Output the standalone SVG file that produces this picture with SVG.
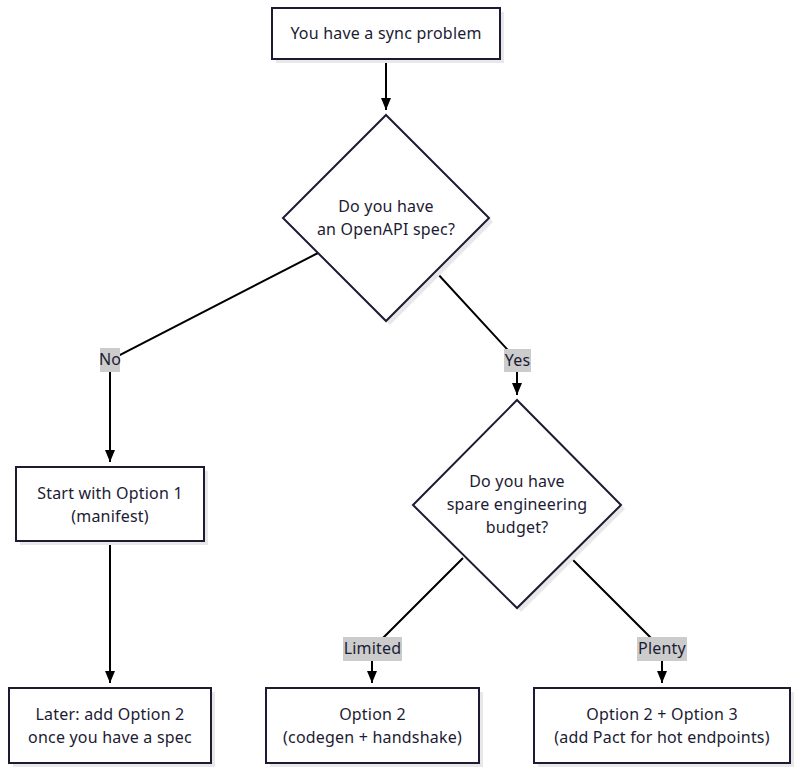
<svg xmlns="http://www.w3.org/2000/svg" width="800" height="772" viewBox="0 0 800 772">
<style>
.node{fill:#fff;stroke:#1c1b33;stroke-width:2}
.shadow{fill:#e8e8e8;stroke:none}
.edge{fill:none;stroke:#000;stroke-width:2}
.t{font-family:"Noto Sans","Liberation Sans",sans-serif;font-size:16px;letter-spacing:0.2px;fill:#1c1b33;text-anchor:middle}
.lbg{fill:#cccccc}
</style>
<defs>
<marker id="arr" viewBox="0 0 12 10" refX="12" refY="5" markerWidth="12" markerHeight="10" markerUnits="userSpaceOnUse" orient="auto">
<path d="M0,0 L12,5 L0,10 z" fill="#000"/>
</marker>
</defs>
<g id="edges">
<path class="edge" d="M386,59 L386,110" marker-end="url(#arr)"/>
<path class="edge" d="M318,253 L110,360 L110,462" marker-end="url(#arr)"/>
<path class="edge" d="M436,272 L517,360 L517,395" marker-end="url(#arr)"/>
<path class="edge" d="M110,541 L110,683" marker-end="url(#arr)"/>
<path class="edge" d="M463,558 L372,649 L372,683" marker-end="url(#arr)"/>
<path class="edge" d="M570,557 L662,649 L662,683" marker-end="url(#arr)"/>
</g>
<g id="labels">
<rect class="lbg" x="100" y="348" width="20" height="24"/>
<text class="t" x="110" y="365">No</text>
<rect class="lbg" x="504" y="349" width="27" height="23"/>
<text class="t" x="517.5" y="366">Yes</text>
<rect class="lbg" x="343" y="637" width="59" height="24"/>
<text class="t" x="372.5" y="654">Limited</text>
<rect class="lbg" x="637" y="637" width="50" height="24"/>
<text class="t" x="662" y="654">Plenty</text>
</g>
<g id="start">
<rect class="shadow" x="276" y="12" width="228" height="51"/>
<rect class="node" x="272" y="8" width="228" height="51"/>
<text class="t" x="386" y="39">You have a sync problem</text>
</g>
<g id="q1">
<polygon class="shadow" points="390,119 493,222 390,325 287,222"/>
<polygon class="node" points="386,115 489,218 386,321 283,218"/>
<text class="t" x="386" y="212">Do you have</text>
<text class="t" x="386" y="235">an OpenAPI spec?</text>
</g>
<g id="opt1">
<rect class="shadow" x="20" y="471" width="188" height="74"/>
<rect class="node" x="16" y="467" width="188" height="74"/>
<text class="t" x="110" y="499">Start with Option 1</text>
<text class="t" x="110" y="522">(manifest)</text>
</g>
<g id="q2">
<polygon class="shadow" points="521,404 625,509 521,612 417,509"/>
<polygon class="node" points="517,400 621,505 517,608 413,505"/>
<text class="t" x="517" y="487">Do you have</text>
<text class="t" x="517" y="510">spare engineering</text>
<text class="t" x="517" y="533">budget?</text>
</g>
<g id="later">
<rect class="shadow" x="13" y="692" width="202" height="75"/>
<rect class="node" x="9" y="688" width="202" height="75"/>
<text class="t" x="110" y="720">Later: add Option 2</text>
<text class="t" x="110" y="743">once you have a spec</text>
</g>
<g id="opt2">
<rect class="shadow" x="270" y="692" width="213" height="75"/>
<rect class="node" x="266" y="688" width="213" height="75"/>
<text class="t" x="372.5" y="720">Option 2</text>
<text class="t" x="372.5" y="743">(codegen + handshake)</text>
</g>
<g id="opt23">
<rect class="shadow" x="538" y="692" width="256" height="75"/>
<rect class="node" x="534" y="688" width="256" height="75"/>
<text class="t" x="662" y="720">Option 2 + Option 3</text>
<text class="t" x="662" y="743">(add Pact for hot endpoints)</text>
</g>
</svg>
